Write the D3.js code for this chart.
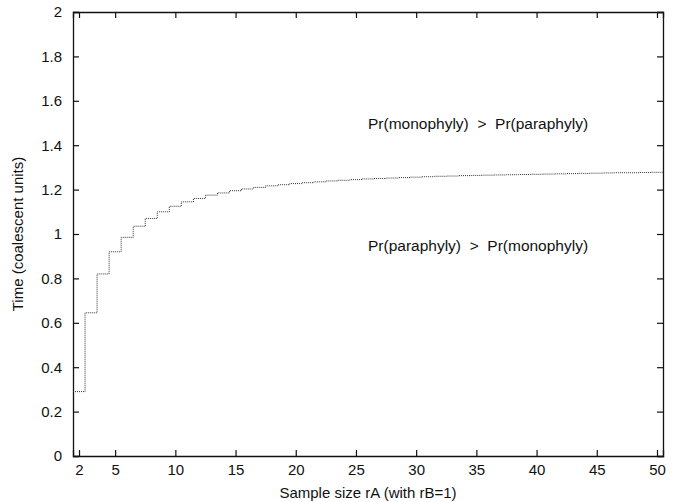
<!DOCTYPE html>
<html>
<head>
<meta charset="utf-8">
<script src="https://cdn.jsdelivr.net/npm/d3@7"></script>
<style>
  body { margin: 0; background: #fff; }
  text { font-family: "Liberation Sans", Arial, sans-serif; }
</style>
</head>
<body>
<svg id="chart" width="683" height="502"></svg>
<script>
// sample size rA, 2..50
var sampleSizes = d3.range(2, 51);
// time threshold
var times = [
  0.29, 0.645, 0.82, 0.92, 0.985, 1.035, 1.07, 1.10, 1.125,
  1.145, 1.16, 1.175, 1.185, 1.195, 1.203, 1.21, 1.217, 1.222, 1.227,
  1.231, 1.235, 1.239, 1.242, 1.245, 1.248, 1.25, 1.252, 1.254, 1.256,
  1.258, 1.26, 1.261, 1.263, 1.264, 1.265, 1.266, 1.267, 1.268, 1.269,
  1.27, 1.271, 1.272, 1.273, 1.274, 1.275, 1.276, 1.276, 1.277, 1.278
];
var xTicks = [2, 5, 10, 15, 20, 25, 30, 35, 40, 45, 50];
var yTicks = [0, 0.2, 0.4, 0.6, 0.8, 1, 1.2, 1.4, 1.6, 1.8, 2];

var margin = { top: 12, right: 20, bottom: 46, left: 73 },
  width = 683 - margin.left - margin.right,
  height = 502 - margin.top - margin.bottom;

var x = d3.scaleLinear().domain([1.5, 50.5]).range([0, width]);
var y = d3.scaleLinear().domain([0, 2]).range([height, 0]);

var svg = d3.select("#chart")
  .append("g")
  .attr("transform", "translate(" + margin.left + "," + margin.top + ")");

var fmt = function (d) { return d3.format("~g")(d); };

svg.append("g")
  .attr("class", "axis")
  .call(d3.axisLeft(y).tickValues(yTicks).tickFormat(fmt).tickSize(-6).tickPadding(11));
svg.append("g")
  .attr("class", "axis")
  .attr("transform", "translate(" + width + ",0)")
  .call(d3.axisRight(y).tickValues(yTicks).tickFormat("").tickSize(-6));
svg.append("g")
  .attr("class", "axis")
  .attr("transform", "translate(0," + height + ")")
  .call(d3.axisBottom(x).tickValues(xTicks).tickFormat(fmt).tickSize(-6).tickPadding(8));
svg.append("g")
  .attr("class", "axis")
  .call(d3.axisTop(x).tickValues(xTicks).tickFormat("").tickSize(-6));

svg.selectAll(".axis path").attr("stroke", "#111").attr("stroke-width", 1.3);
svg.selectAll(".axis line").attr("stroke", "#111").attr("stroke-width", 1.2);
svg.selectAll(".axis text").attr("font-size", 15).attr("fill", "#111")
  .style("font-family", "'Liberation Sans', Arial, sans-serif");

// step curve: each value spans r-0.5 .. r+0.5
var pts = [];
sampleSizes.forEach(function (r, i) {
  pts.push([r - 0.5, times[i]]);
  pts.push([r + 0.5, times[i]]);
});
var line = d3.line()
  .x(function (d) { return x(d[0]); })
  .y(function (d) { return y(d[1]); });

svg.append("path")
  .datum(pts)
  .attr("d", line)
  .attr("fill", "none")
  .attr("stroke", "#333")
  .attr("stroke-width", 1)
  .attr("stroke-dasharray", "1,1");

svg.append("text")
  .attr("x", x(26)).attr("y", y(1.473))
  .attr("font-size", 15.5).attr("fill", "#111")
  .attr("xml:space", "preserve")
  .text("Pr(monophyly)  >  Pr(paraphyly)");
svg.append("text")
  .attr("x", x(26)).attr("y", y(0.923))
  .attr("font-size", 15.5).attr("fill", "#111")
  .attr("xml:space", "preserve")
  .text("Pr(paraphyly)  >  Pr(monophyly)");

svg.append("text")
  .attr("x", width / 2).attr("y", height + 42)
  .attr("text-anchor", "middle").attr("font-size", 15).attr("fill", "#111")
  .text("Sample size rA (with rB=1)");
svg.append("text")
  .attr("transform", "translate(" + (-50) + "," + (y(1.0)) + ") rotate(-90)")
  .attr("text-anchor", "middle").attr("font-size", 15).attr("fill", "#111")
  .text("Time (coalescent units)");
</script>
</body>
</html>
